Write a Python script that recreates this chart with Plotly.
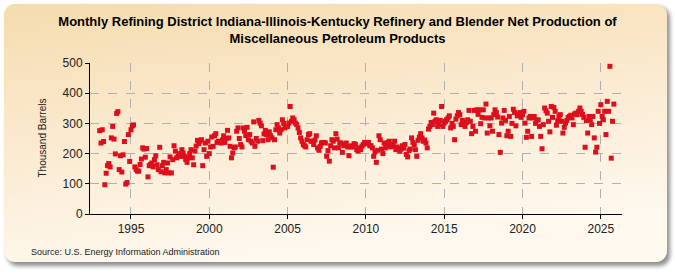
import base64

import pandas as pd
import plotly.graph_objects as go

# monthly values, thousand barrels
vals_1993_1999 = [
    276, 235, 279, 240, 97, 135, 160, 167, 156, 252, 290, 248,
    199, 333, 339, 147, 193, 139, 196, 240, 99, 104, 263, 174,
    279, 292, 295, 156, 147, 142, 142, 164, 182, 219, 215, 188,
    217, 123, 160, 164, 169, 156, 180, 193, 163, 147, 221, 140,
    160, 171, 136, 147, 169, 136, 189, 136, 180, 226, 208, 186,
    191, 200, 191, 213, 202, 190, 180, 171, 186, 200, 213, 186,
    163, 208, 225, 244, 233, 241, 246, 160, 213, 235, 191, 241,
]
vals_2000_2009 = [
    200, 222, 255, 224, 259, 266, 237, 241, 240, 235, 245, 259,
    237, 250, 277, 252, 224, 186, 202, 219, 222, 274, 285, 250,
    230, 222, 285, 274, 260, 287, 246, 263, 241, 235, 305, 224,
    250, 241, 310, 301, 292, 243, 265, 277, 263, 246, 272, 259,
    252, 155, 246, 279, 296, 285, 268, 279, 312, 300, 285, 290,
    290, 301, 356, 307, 318, 312, 301, 296, 285, 270, 252, 241,
    230, 226, 222, 246, 263, 266, 241, 241, 230, 245, 259, 219,
    211, 224, 235, 237, 237, 235, 191, 210, 175, 226, 246, 241,
    219, 266, 248, 219, 235, 235, 204, 226, 230, 235, 222, 193,
    222, 226, 222, 233, 230, 213, 208, 219, 213, 225, 230, 237,
]
vals_2010_2019 = [
    237, 233, 237, 226, 226, 219, 191, 205, 171, 211, 259, 246,
    215, 200, 235, 219, 226, 237, 241, 222, 230, 226, 241, 213,
    222, 215, 208, 215, 226, 218, 230, 197, 189, 210, 215, 252,
    237, 230, 213, 191, 244, 255, 266, 252, 241, 245, 235, 219,
    281, 290, 303, 296, 334, 307, 312, 290, 296, 310, 356, 290,
    301, 307, 312, 318, 325, 285, 300, 290, 246, 314, 325, 336,
    329, 296, 310, 300, 290, 303, 312, 343, 307, 266, 290, 343,
    274, 345, 330, 345, 299, 320, 345, 318, 364, 268, 318, 292,
    318, 274, 329, 345, 336, 321, 263, 204, 301, 318, 343, 310,
    259, 274, 323, 257, 300, 347, 336, 292, 325, 329, 336, 320,
]
vals_2020_2025 = [
    329, 340, 301, 254, 274, 318, 323, 257, 318, 323, 300, 310,
    312, 290, 257, 216, 296, 351, 342, 334, 307, 272, 356, 320,
    353, 340, 294, 309, 323, 329, 307, 268, 287, 301, 310, 320,
    323, 327, 318, 296, 331, 334, 329, 340, 351, 340, 330, 320,
    221, 309, 268, 323, 312, 296, 323, 252, 205, 221, 340, 300,
    362, 323, 312, 340, 263, 373, 340, 489, 185, 307, 364,
]
y_ticks = [0, 100, 200, 300, 400, 500]

values = vals_1993_1999 + vals_2000_2009 + vals_2010_2019 + vals_2020_2025
dates = pd.date_range("1993-01-01", periods=len(values), freq="MS")

W, H = 675, 275
ML, MR, MT, MB = 90, 53, 63, 61
pw, ph = W - ML - MR, H - MT - MB

# beige rounded frame with drop shadow, drawn as an svg background image
svg = f"""<svg xmlns="http://www.w3.org/2000/svg" width="{W}" height="{H}">
<defs>
<linearGradient id="g" x1="0" y1="0" x2="0.3" y2="1">
<stop offset="0" stop-color="#f5dcae"/><stop offset="0.55" stop-color="#fbebd2"/>
<stop offset="1" stop-color="#fef8ee"/></linearGradient>
<filter id="s" x="-5%" y="-5%" width="110%" height="115%"><feGaussianBlur stdDeviation="2"/></filter>
</defs>
<rect x="7" y="7" width="663" height="259" rx="11" fill="#8f8f8f" filter="url(#s)"/>
<rect x="4" y="4" width="663" height="258" rx="11" fill="url(#g)"/>
</svg>"""
bg_src = "data:image/svg+xml;base64," + base64.b64encode(svg.encode()).decode()

fig = go.Figure()
fig.add_trace(
    go.Scatter(
        x=dates,
        y=values,
        mode="markers",
        marker=dict(symbol="square", size=5, color="#dd0f1c", line=dict(width=0)),
        hoverinfo="x+y",
        showlegend=False,
    )
)

font = "Liberation Sans, Arial, sans-serif"
fig.update_layout(
    width=W,
    height=H,
    margin=dict(l=ML, r=MR, t=MT, b=MB, autoexpand=False),
    paper_bgcolor="white",
    plot_bgcolor="white",
    font=dict(family=font, size=12, color="#222"),
    title=dict(
        text="Monthly Refining District Indiana-Illinois-Kentucky Refinery and Blender Net Production of<br>Miscellaneous Petroleum Products",
        x=0.5,
        xref="container",
        xanchor="center",
        y=1 - 26 / H,
        yanchor="top",
        font=dict(family=font, size=13, color="black", weight="bold"),
    ),
    images=[
        dict(
            source=bg_src,
            xref="paper",
            yref="paper",
            x=-ML / pw,
            y=1 + MT / ph,
            sizex=W / pw,
            sizey=H / ph,
            xanchor="left",
            yanchor="top",
            sizing="stretch",
            layer="below",
        )
    ],
    annotations=[
        dict(
            text="Thousand Barrels",
            xref="paper",
            yref="paper",
            x=(42 - ML) / pw,
            y=0.5,
            xanchor="center",
            yanchor="middle",
            textangle=-90,
            showarrow=False,
            font=dict(size=10, color="#222"),
        ),
        dict(
            text="Source: U.S. Energy Information Administration",
            xref="paper",
            yref="paper",
            x=(29 - ML) / pw,
            y=(MT + ph - 252) / ph,
            xanchor="left",
            yanchor="middle",
            showarrow=False,
            font=dict(size=9, color="#222"),
        ),
    ],
)
fig.update_xaxes(
    range=["1992-05-20", "2026-05-10"],
    tick0="1995-01-01",
    dtick="M60",
    tickformat="%Y",
    showgrid=True,
    gridcolor="#b0b0b0",
    griddash="dash",
    gridwidth=1,
    showline=True,
    linecolor="black",
    linewidth=1,
    ticks="outside",
    ticklen=4,
    tickcolor="black",
    zeroline=False,
)
fig.update_yaxes(
    range=[0, 500],
    tickvals=y_ticks,
    showgrid=True,
    gridcolor="#b0b0b0",
    griddash="dash",
    gridwidth=1,
    showline=True,
    linecolor="black",
    linewidth=1,
    ticks="outside",
    ticklen=4,
    tickcolor="black",
    zeroline=False,
)

# drop the default 8px page margin so the figure sits at the window origin
fig.write_html(
    "out.html",
    config={"displayModeBar": False},
    post_script="document.body.style.margin='0';",
)
